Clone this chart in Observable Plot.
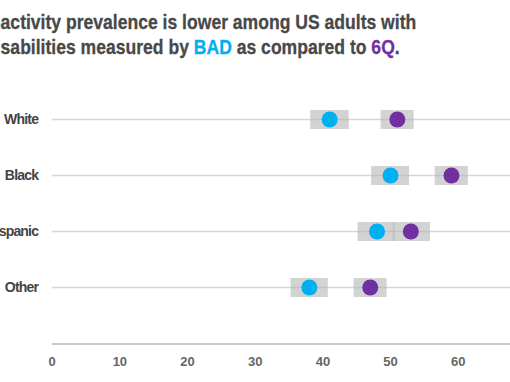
<!DOCTYPE html>
<html>
<head>
<meta charset="utf-8">
<script src="https://cdn.jsdelivr.net/npm/d3@7"></script>
<script src="https://cdn.jsdelivr.net/npm/@observablehq/plot@0.6"></script>
<style>
  html, body { margin: 0; padding: 0; background: #fff; width: 510px; height: 382px; overflow: hidden; }
  #wrap { position: relative; left: -15px; top: 0; width: 560px; height: 382px; }
  #title { position: absolute; left: 0; top: 10px; font-family: "Liberation Sans", Arial, sans-serif; font-weight: bold; font-size: 21px; line-height: 24.5px; color: #484848; white-space: nowrap; transform: scaleX(0.836); transform-origin: 0 0; -webkit-text-stroke: 0.3px #484848; }
  #title .bad { color: #00b0f0; -webkit-text-stroke: 0.3px #00b0f0; }
  #title .q6 { color: #7030a0; -webkit-text-stroke: 0.3px #7030a0; }
  #chart { position: absolute; left: 0; top: 70px; }
  #chart g[aria-label="y-axis tick label"] text { letter-spacing: -0.8px; }
</style>
</head>
<body>
<div id="wrap">
  <div id="title">Inactivity prevalence is lower among US adults with<br>disabilities measured by <span class="bad">BAD</span> as compared to <span class="q6">6Q</span>.</div>
  <div id="chart"></div>
</div>
<script>
const categories = ["White", "Black", "Hispanic", "Other"];
const badValues = [41, 50, 48, 38];
const badLow = [38.2, 47.2, 45.2, 35.3];
const badHigh = [43.9, 52.8, 50.7, 40.8];
const q6Values = [51, 59, 53, 47];
const q6Low = [48.6, 56.6, 50.4, 44.6];
const q6High = [53.5, 61.5, 55.9, 49.5];
const xTicks = [0, 10, 20, 30, 40, 50, 60];

const rows = [];
categories.forEach((c, i) => {
  rows.push({race: c, measure: "BAD", value: badValues[i], lo: badLow[i], hi: badHigh[i]});
  rows.push({race: c, measure: "6Q", value: q6Values[i], lo: q6Low[i], hi: q6High[i]});
});

// bottom axis line drawn from the x scale
const axisLine = (index, scales, values, dims) => {
  const y = dims.height - dims.marginBottom;
  const line = document.createElementNS("http://www.w3.org/2000/svg", "line");
  line.setAttribute("x1", scales.x(0));
  line.setAttribute("x2", scales.x(70));
  line.setAttribute("y1", y);
  line.setAttribute("y2", y);
  line.setAttribute("stroke", "#c8c8c8");
  line.setAttribute("stroke-width", "1.8");
  return line;
};

const chart = Plot.plot({
  width: 560,
  height: 314,
  marginLeft: 66.7,
  marginRight: 19.6,
  marginTop: 10,
  marginBottom: 40,
  style: {background: "transparent", overflow: "visible"},
  x: {domain: [0, 70], ticks: xTicks},
  y: {type: "point", domain: categories, range: [48.3, 217], padding: 0},
  color: {domain: ["BAD", "6Q"], range: ["#00b0f0", "#7030a0"]},
  marks: [
    Plot.ruleY(categories, {y: d => d, stroke: "#d6d6d6", strokeWidth: 1.6}),
    axisLine,
    Plot.ruleY(rows, {y: "race", x1: "lo", x2: "hi", stroke: "#b8b8b8", strokeOpacity: 0.62, strokeWidth: 19}),
    Plot.dot(rows, {x: "value", y: "race", r: 8, fill: "measure", stroke: "none"}),
    Plot.axisX({ticks: xTicks, tickSize: 0, tickPadding: 12, fill: "#666", fontSize: 13, fontWeight: "bold", fontFamily: "Liberation Sans, Arial, sans-serif", label: null}),
    Plot.axisY({tickSize: 0, tickPadding: 14, fill: "#444", fontSize: 14, fontWeight: "bold", fontFamily: "Liberation Sans, Arial, sans-serif", label: null})
  ]
});
document.getElementById("chart").appendChild(chart);
</script>
</body>
</html>
